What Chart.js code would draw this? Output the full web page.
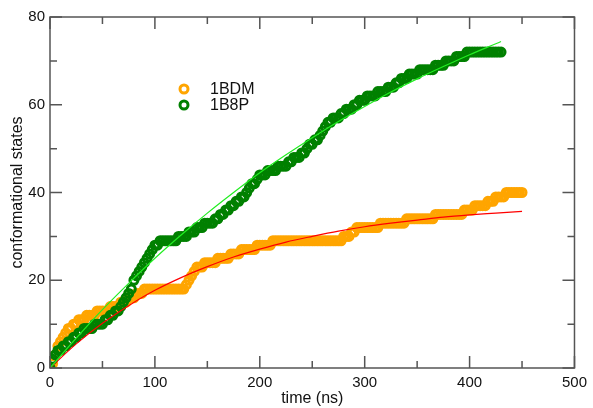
<!DOCTYPE html>
<html>
<head>
<meta charset="utf-8">
<script src="https://cdn.jsdelivr.net/npm/chart.js@4/dist/chart.umd.min.js"></script>
<style>
html,body{margin:0;padding:0;background:#fff;}
#wrap{width:593px;height:408px;position:relative;}
</style>
</head>
<body>
<div id="wrap"><canvas id="c" width="593" height="408"></canvas></div>
<script>
// time samples (ns)
const times = [
  0,2.5,5,7.5,10,12.5,15,17.5, 20,22.5,25,27.5,30,32.5,35,37.5,
  40,42.5,45,47.5,50,52.5,55,57.5, 60,62.5,65,67.5,70,72.5,75,77.5,
  80,82.5,85,87.5,90,92.5,95,97.5, 100,102.5,105,107.5,110,112.5,115,117.5,
  120,122.5,125,127.5,130,132.5,135,137.5, 140,142.5,145,147.5,150,152.5,155,157.5,
  160,162.5,165,167.5,170,172.5,175,177.5, 180,182.5,185,187.5,190,192.5,195,197.5,
  200,202.5,205,207.5,210,212.5,215,217.5, 220,222.5,225,227.5,230,232.5,235,237.5,
  240,242.5,245,247.5,250,252.5,255,257.5, 260,262.5,265,267.5,270,272.5,275,277.5,
  280,282.5,285,287.5,290,292.5,295,297.5, 300,302.5,305,307.5,310,312.5,315,317.5,
  320,322.5,325,327.5,330,332.5,335,337.5, 340,342.5,345,347.5,350,352.5,355,357.5,
  360,362.5,365,367.5,370,372.5,375,377.5, 380,382.5,385,387.5,390,392.5,395,397.5,
  400,402.5,405,407.5,410,412.5,415,417.5, 420,422.5,425,427.5,430,432.5,435,437.5,
  440,442.5,445,447.5,450];
// 1BDM conformational states (t = 0..450)
const bdmValues = [
  0,1,3,5, 6,7,8,9, 9,10,10,11, 11,11,12,12, 12,12,13,13, 13,13,13,14, 14,14,14,15, 15,15,16,16,
  16,17,17,17, 18,18,18,18, 18,18,18,18, 18,18,18,18, 18,18,18,18, 19,20,21,22, 23,23,23,24, 24,24,24,24,
  25,25,25,25, 25,26,26,26, 26,27,27,27, 27,27,27,28, 28,28,28,28, 28,29,29,29, 29,29,29,29, 29,29,29,29,
  29,29,29,29, 29,29,29,29, 29,29,29,29, 29,29,29,29, 30,30,30,31, 31,32,32,32, 32,32,32,32, 32,32,33,33,
  33,33,33,33, 33,33,33,33, 34,34,34,34, 34,34,34,34, 34,34,34,35, 35,35,35,35, 35,35,35,35, 35,35,36,36,
  36,36,37,37, 37,37,37,38, 38,38,39,39, 39,39,40,40, 40,40,40,40, 40];
// 1B8P conformational states (t = 0..430)
const b8pValues = [
  0,2,3,4, 4,5,5,6, 6,7,7,8, 8,9,9,9, 9,10,10,10, 10,11,11,12, 12,13,13,14, 15,16,17,18,
  20,21,22,23, 24,25,26,27, 28,28,29,29, 29,29,29,29, 29,30,30,30, 30,31,31,31, 32,32,32,33, 33,33,33,34,
  34,35,35,36, 36,37,37,38, 38,39,39,40, 41,42,42,43, 44,44,44,45, 45,45,45,46, 46,46,46,47, 47,48,48,48,
  49,49,50,51, 51,52,52,53, 54,55,56,56, 57,57,57,58, 58,59,59,59, 60,60,61,61, 61,62,62,62, 62,63,63,63,
  63,64,64,64, 65,65,66,66, 66,67,67,67, 67,68,68,68, 68,68,68,69, 69,69,69,70, 70,70,70,71, 71,71,71,72,
  72,72,72,72, 72,72,72,72, 72,72,72,72, 72];
// fitted curves
const fitTimesBDM = [0,25,50,75,100,125,150,175,200,225,250,275,300,325,350,375,400,425,450];
const fitBDM = [0,5.5,10.2,14.2,17.7,20.6,23.1,25.3,27.1,28.7,30.0,31.2,32.2,33.0,33.7,34.4,34.9,35.3,35.7];
const fitTimesB8P = [0,25,50,75,100,125,150,175,200,225,250,275,300,325,350,375,400,425,430];
const fitB8P = [0,6.8,13.3,19.3,25.0,30.3,35.3,40.0,44.5,48.6,52.5,56.2,59.6,62.9,65.9,68.7,71.4,73.9,74.4];
// axis ticks
const xMajor = [0,100,200,300,400,500];
const xMinor = [50,150,250,350,450];
const yMajor = [0,20,40,60,80];
const yMinor = [10,30,50,70];
const seriesNames = ['1BDM','1B8P'];

const ORANGE = '#ffa500', GREEN = '#008000';
const pts = (xs, ys) => ys.map((v, i) => ({x: xs[i], y: v}));

const framePlugin = {
  id: 'frame',
  afterDatasetsDraw(chart) {
    const {ctx, chartArea: a, scales: {x, y}} = chart;
    ctx.save();
    ctx.strokeStyle = '#555';
    ctx.lineWidth = 1.5;
    ctx.strokeRect(a.left, a.top, a.right - a.left, a.bottom - a.top);
    ctx.beginPath();
    const tx = (v, len) => {
      const px = x.getPixelForValue(v);
      ctx.moveTo(px, a.bottom); ctx.lineTo(px, a.bottom - len);
      ctx.moveTo(px, a.top); ctx.lineTo(px, a.top + len);
    };
    const ty = (v, len) => {
      const py = y.getPixelForValue(v);
      ctx.moveTo(a.left, py); ctx.lineTo(a.left + len, py);
      ctx.moveTo(a.right, py); ctx.lineTo(a.right - len, py);
    };
    xMajor.forEach(v => tx(v, 12)); xMinor.forEach(v => tx(v, 7));
    yMajor.forEach(v => ty(v, 12)); yMinor.forEach(v => ty(v, 7));
    ctx.stroke();
    // legend
    const items = [[seriesNames[0], ORANGE, 89], [seriesNames[1], GREEN, 105]];
    ctx.font = '16px "Liberation Sans", Arial, sans-serif';
    ctx.textBaseline = 'middle';
    ctx.textAlign = 'left';
    items.forEach(([name, col, yy]) => {
      ctx.beginPath();
      ctx.strokeStyle = col;
      ctx.lineWidth = 3;
      ctx.arc(184, yy, 4, 0, Math.PI * 2);
      ctx.stroke();
      ctx.fillStyle = '#111';
      ctx.fillText(name, 210, yy + 0.5);
    });
    ctx.restore();
  }
};

new Chart(document.getElementById('c'), {
  type: 'scatter',
  data: {
    datasets: [
      {label: seriesNames[0], data: pts(times, bdmValues), showLine: false,
       borderColor: ORANGE, backgroundColor: 'rgba(0,0,0,0)', pointRadius: 4, pointBorderWidth: 3, order: 3},
      {label: seriesNames[1], data: pts(times, b8pValues), showLine: false,
       borderColor: GREEN, backgroundColor: 'rgba(0,0,0,0)', pointRadius: 4, pointBorderWidth: 3, order: 2},
      {label: 'fit 1BDM', data: pts(fitTimesBDM, fitBDM), showLine: true, borderColor: '#ff0000',
       borderWidth: 1.2, pointRadius: 0, cubicInterpolationMode: 'monotone', order: 1},
      {label: 'fit 1B8P', data: pts(fitTimesB8P, fitB8P), showLine: true, borderColor: '#22ee22',
       borderWidth: 1.2, pointRadius: 0, cubicInterpolationMode: 'monotone', order: 0}
    ]
  },
  options: {
    responsive: false,
    animation: false,
    events: [],
    layout: {padding: {top: 17, right: 16, left: 0, bottom: 0}},
    plugins: {legend: {display: false}, tooltip: {enabled: false}},
    scales: {
      x: {
        type: 'linear', min: 0, max: 500,
        grid: {display: false, drawTicks: false}, border: {display: false},
        ticks: {stepSize: 100, padding: 6, color: '#111', maxRotation: 0,
                font: {family: '"Liberation Sans", Arial, sans-serif', size: 15}},
        title: {display: true, text: 'time (ns)', color: '#111', padding: {top: 0, bottom: 0},
                font: {family: '"Liberation Sans", Arial, sans-serif', size: 16}},
        afterFit(s) { s.height = 40; }
      },
      y: {
        type: 'linear', min: 0, max: 80,
        grid: {display: false, drawTicks: false}, border: {display: false},
        ticks: {stepSize: 20, padding: 5, color: '#111',
                font: {family: '"Liberation Sans", Arial, sans-serif', size: 15}},
        title: {display: true, text: 'conformational states', color: '#111', padding: {top: 8, bottom: 0},
                font: {family: '"Liberation Sans", Arial, sans-serif', size: 16}},
        afterFit(s) { s.width = 50; }
      }
    }
  },
  plugins: [framePlugin]
});
</script>
</body>
</html>
